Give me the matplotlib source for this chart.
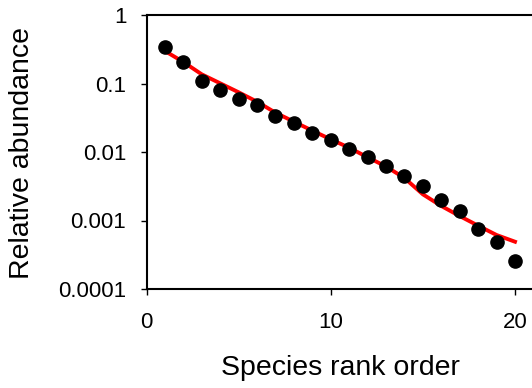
import numpy as np
import matplotlib.pyplot as plt
from matplotlib.ticker import FixedLocator, NullLocator

plt.rcParams['font.family'] = ['Liberation Sans', 'DejaVu Sans']

# observed relative abundance by rank
rank = [1, 2, 3, 4, 5, 6, 7, 8, 9, 10, 11, 12, 13, 14, 15, 16, 17, 18, 19, 20]
abundance = [0.344, 0.206, 0.110, 0.0804, 0.0594, 0.049, 0.0336, 0.0262, 0.0191, 0.0150,
             0.0109, 0.00845, 0.00625, 0.00452, 0.00316, 0.00201, 0.00138, 0.000743,
             0.000481, 0.000256]

# fitted model
fit = [0.298, 0.206, 0.136, 0.1006, 0.0744, 0.0542, 0.0375, 0.0277, 0.0205, 0.0153,
       0.01155, 0.00837, 0.00614, 0.00417, 0.00241, 0.00163, 0.00116, 0.00084,
       0.000614, 0.00049]

W, H = 532, 388
fig = plt.figure(figsize=(W / 100, H / 100), dpi=100)
# axes runs off the right edge, so the right spine is never seen
x0, x20 = 146.5, 515.0
ppu = (x20 - x0) / 20
xmax = 21.5
ax = fig.add_axes([x0 / W, 99 / H, xmax * ppu / W, 274 / H])

ax.plot(rank, fit, color='#ff0000', lw=2.8, zorder=2)
ax.plot(rank, abundance, 'o', color='black', ms=9.5, zorder=3)

ax.set_yscale('log')
ax.set_ylim(1e-4, 1)
ax.set_xlim(0, xmax)
ax.yaxis.set_major_locator(FixedLocator([1e-4, 1e-3, 1e-2, 1e-1, 1]))
ax.yaxis.set_minor_locator(NullLocator())
ax.set_yticklabels(['0.0001', '0.001', '0.01', '0.1', '1'])
ax.set_xticks([0, 10, 20])
ax.set_xticklabels(['0', '10', '20'])

ax.tick_params(axis='y', direction='out', length=4.5, width=1, pad=10, labelsize=16)
ax.tick_params(axis='x', direction='out', length=4.5, width=1, pad=12, labelsize=16)
for s in ['left', 'bottom', 'top']:
    ax.spines[s].set_linewidth(1.5)
ax.spines['right'].set_visible(False)

fig.text(22 / W, 1 - 153 / H, 'Relative abundance', rotation=90,
         ha='center', va='center', fontsize=20.5)
fig.text(340 / W, 1 - 368 / H, 'Species rank order',
         ha='center', va='center', fontsize=20.5)

fig.savefig('out.png', dpi=100)
